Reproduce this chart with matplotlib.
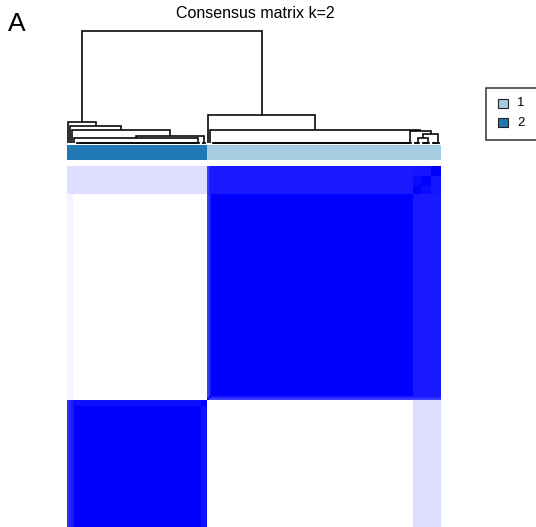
import numpy as np
import matplotlib
matplotlib.use("Agg")
import matplotlib.pyplot as plt
from matplotlib.colors import LinearSegmentedColormap, ListedColormap
from matplotlib.patches import Rectangle

plt.rcParams['font.family'] = ['Liberation Sans', 'DejaVu Sans']

# ---------------- data ----------------
title = "Consensus matrix k=2"
panel_label = "A"
legend_labels = ["1", "2"]
cluster_colors = {1: "#A6CEE3", 2: "#1F78B4"}

# sample subgroups in display order
group_names = ["s1", "s2", "s3", "s4", "B", "C", "t1", "t2", "M", "D", "E", "F"]
group_cluster = [2, 2, 2, 2, 2, 2, 1, 1, 1, 1, 1, 1]
group_sizes = [1, 1, 1, 1, 63, 3, 1, 1, 101, 4, 5, 5]

# consensus between subgroups (symmetric)
G = np.array([
    # s1    s2    s3    s4    B     C     t1    t2    M     D     E     F
    [1.00, 0.816, 0.816, 0.816, 0.816, 0.816, 0.04, 0.04, 0.04, 0.13, 0.13, 0.13],  # s1
    [0.816, 1.00, 0.853, 0.853, 0.853, 0.853, 0.04, 0.04, 0.04, 0.13, 0.13, 0.13],  # s2
    [0.816, 0.853, 1.00, 0.887, 0.887, 0.887, 0.04, 0.04, 0.04, 0.13, 0.13, 0.13],  # s3
    [0.816, 0.853, 0.887, 1.00, 0.957, 0.939, 0.00, 0.00, 0.00, 0.13, 0.13, 0.13],  # s4
    [0.816, 0.853, 0.887, 0.957, 1.00, 0.939, 0.00, 0.00, 0.00, 0.13, 0.13, 0.13],  # B
    [0.816, 0.853, 0.887, 0.939, 0.939, 1.00, 0.00, 0.00, 0.00, 0.13, 0.13, 0.13],  # C
    [0.04, 0.04, 0.04, 0.00, 0.00, 0.00, 1.00, 0.757, 0.757, 0.757, 0.757, 0.757],  # t1
    [0.04, 0.04, 0.04, 0.00, 0.00, 0.00, 0.757, 1.00, 0.885, 0.885, 0.885, 0.885],  # t2
    [0.04, 0.04, 0.04, 0.00, 0.00, 0.00, 0.757, 0.885, 1.00, 0.895, 0.895, 0.895],  # M
    [0.13, 0.13, 0.13, 0.13, 0.13, 0.13, 0.757, 0.885, 0.895, 1.00, 0.955, 0.92],   # D
    [0.13, 0.13, 0.13, 0.13, 0.13, 0.13, 0.757, 0.885, 0.895, 0.955, 1.00, 0.92],   # E
    [0.13, 0.13, 0.13, 0.13, 0.13, 0.13, 0.757, 0.885, 0.895, 0.92, 0.92, 1.00],    # F
])

# ---------------- build consensus matrix ----------------
lab = np.repeat(np.arange(len(group_sizes)), group_sizes)
C = G[lab][:, lab]
np.fill_diagonal(C, 1.0)
N = C.shape[0]
sample_cluster = np.array(group_cluster)[lab]


def upgma(D):
    n = D.shape[0]
    D = D.astype(float).copy()
    np.fill_diagonal(D, np.inf)
    size = np.ones(n)
    active = np.ones(n, bool)
    nx = np.arange(n) + 0.5
    nh = np.zeros(n)
    upper = np.triu(np.ones((n, n), bool), 1)
    segs = []
    for _ in range(n - 1):
        sub = np.where(upper & active[:, None] & active[None, :], D, np.inf)
        k = int(np.argmin(sub))
        i, j = divmod(k, n)
        h = D[i, j]
        segs.append((nx[i], nh[i], nx[j], nh[j], h))
        new = (size[i] * D[i] + size[j] * D[j]) / (size[i] + size[j])
        D[i, :] = new
        D[:, i] = new
        D[i, i] = np.inf
        D[j, :] = np.inf
        D[:, j] = np.inf
        active[j] = False
        nx[i] = (nx[i] + nx[j]) / 2
        nh[i] = h
        size[i] += size[j]
    return segs


segs = upgma(1.0 - C)
Htop = segs[-1][4]

# ---------------- layout ----------------
W, H = 536, 527
fig = plt.figure(figsize=(W / 100, H / 100), dpi=100)


def frac(x0, y0, x1, y1):
    return [x0 / W, 1 - y1 / H, (x1 - x0) / W, (y1 - y0) / H]


# dendrogram
axd = fig.add_axes(frac(67, 31, 441, 143))
for xl, hl, xr, hr, h in segs:
    axd.plot([xl, xl, xr, xr], [hl, h, h, hr], color='black', lw=1.15,
             solid_capstyle='butt', solid_joinstyle='miter', clip_on=False)
axd.set_xlim(0, N)
axd.set_ylim(0, Htop)
axd.axis('off')

# cluster colour bar
axc = fig.add_axes(frac(67, 145, 441, 160))
cmap_c = ListedColormap([cluster_colors[1], cluster_colors[2]])
axc.imshow((sample_cluster == 2).astype(int)[None, :], cmap=cmap_c, aspect='auto',
           interpolation='nearest', vmin=0, vmax=1)
axc.axis('off')

# heatmap
axh = fig.add_axes(frac(67, 166, 441, 540))
cmap = LinearSegmentedColormap.from_list("wb", ["white", "blue"])
axh.imshow(C, cmap=cmap, vmin=0, vmax=1, aspect='auto', interpolation='nearest',
           origin='lower')
axh.axis('off')

# title and panel label
fig.text(255 / W, 1 - 13 / H, title, ha='center', va='center', fontsize=11.5)
fig.text(8 / W, 1 - 24 / H, panel_label, ha='left', va='center', fontsize=19)

# legend
fig.add_artist(Rectangle((486 / W, 1 - 140 / H), 70 / W, 52 / H, transform=fig.transFigure,
                         facecolor='white', edgecolor='#333333', lw=1.1, clip_on=False))
for k, (lbl, yc) in enumerate(zip(legend_labels, [103.5, 122.5])):
    fig.add_artist(Rectangle((498 / W, 1 - (yc + 4.5) / H), 10 / W, 9 / H,
                             transform=fig.transFigure,
                             facecolor=cluster_colors[int(lbl)], edgecolor='#222222', lw=0.8))
    fig.text(517 / W, 1 - yc / H, lbl, ha='left', va='center', fontsize=9.5)

fig.savefig("out.png", dpi=100)
